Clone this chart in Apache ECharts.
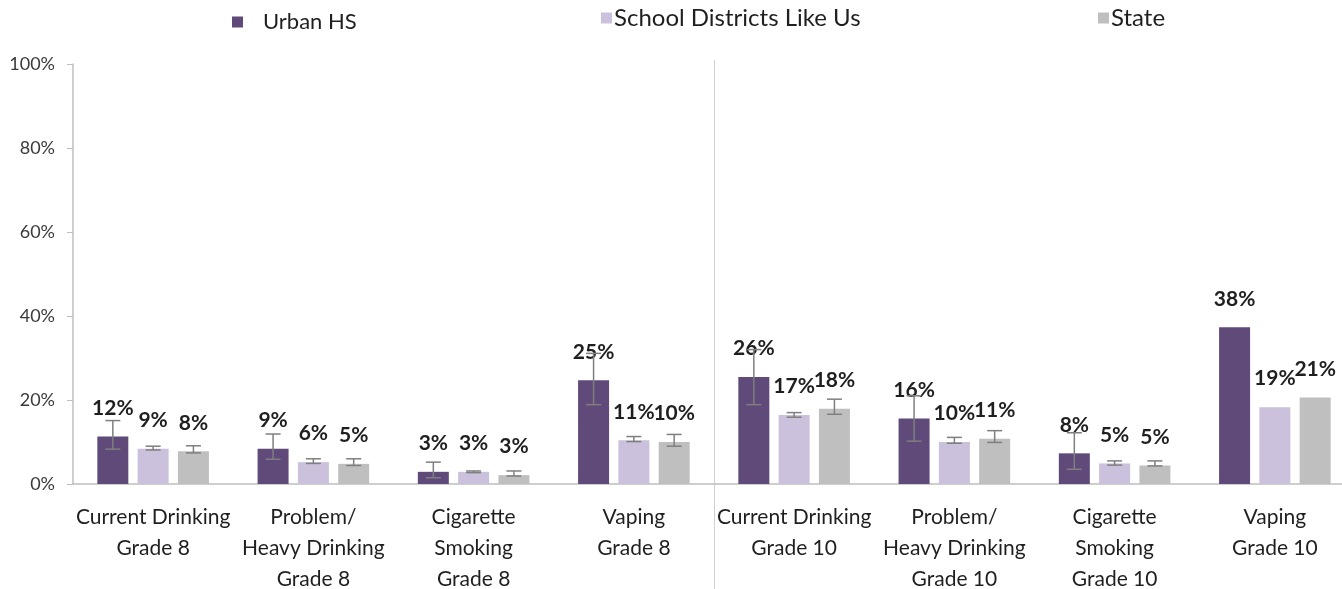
<!DOCTYPE html>
<html>
<head>
<meta charset="utf-8">
<script src="https://cdn.jsdelivr.net/npm/echarts@6/dist/echarts.min.js"></script>
<style>
  html, body { margin: 0; padding: 0; background: #fff; }
  #chart { width: 1342px; height: 589px; }
</style>
</head>
<body>
<div id="chart"></div>
<script>
// categories along the x axis
const categories = [
  "Current Drinking\nGrade 8",
  "Problem/\nHeavy Drinking\nGrade 8",
  "Cigarette\nSmoking\nGrade 8",
  "Vaping\nGrade 8",
  "Current Drinking\nGrade 10",
  "Problem/\nHeavy Drinking\nGrade 10",
  "Cigarette\nSmoking\nGrade 10",
  "Vaping\nGrade 10"
];

const seriesNames = ["Urban HS", "School Districts Like Us", "State"];

// bar heights (%)
const urbanHS = [11.3, 8.4, 2.9, 24.7, 25.5, 15.6, 7.3, 37.3];
const districtsLikeUs = [8.4, 5.2, 2.9, 10.4, 16.4, 10.0, 4.9, 18.3];
const state = [7.8, 4.8, 2.1, 10.0, 17.9, 10.8, 4.4, 20.6];

// printed labels (%)
const urbanLabels = [12, 9, 3, 25, 26, 16, 8, 38];
const districtsLabels = [9, 6, 3, 11, 17, 10, 5, 19];
const stateLabels = [8, 5, 3, 10, 18, 11, 5, 21];

// error bar ranges (%), null = no error bar
const urbanLow = [8.3, 5.9, 1.5, 18.9, 18.9, 10.2, 3.5, null];
const urbanHigh = [15.1, 11.9, 5.2, 31.1, 32.0, 21.0, 12.2, null];
const districtsLow = [8.1, 4.9, 2.7, 10.1, 15.9, 9.7, 4.5, null];
const districtsHigh = [9.0, 6.0, 3.1, 11.3, 17.0, 11.1, 5.5, null];
const stateLow = [7.4, 4.4, 1.9, 9.0, 16.6, 9.9, 4.3, null];
const stateHigh = [9.1, 6.0, 3.1, 11.8, 20.2, 12.7, 5.5, null];

// y axis ticks
const yTicks = [0, 20, 40, 60, 80, 100];

const colors = ["#5f4a7a", "#cbc1dc", "#bfbfbf"];
const BAR_W = 31;
const BAR_GAP = 9.3;
const FONT = "Lato, 'Noto Sans', sans-serif";

function errData(low, high) {
  let out = [];
  for (let i = 0; i < low.length; i++) {
    if (low[i] != null) out.push([i, low[i], high[i]]);
  }
  return out;
}

function errSeries(k, low, high) {
  const offset = (k - 1) * (BAR_W + BAR_GAP);
  return {
    type: "custom",
    name: seriesNames[k] + " err",
    z: 5,
    silent: true,
    data: errData(low, high),
    renderItem: function (params, api) {
      const lo = api.coord([api.value(0), api.value(1)]);
      const hi = api.coord([api.value(0), api.value(2)]);
      const x = lo[0] + offset;
      const cap = 7.5;
      const style = { stroke: "#7f7f7f", lineWidth: 1.5, fill: null };
      return {
        type: "group",
        children: [
          { type: "line", shape: { x1: x, y1: lo[1], x2: x, y2: hi[1] }, style: style },
          { type: "line", shape: { x1: x - cap, y1: hi[1], x2: x + cap, y2: hi[1] }, style: style },
          { type: "line", shape: { x1: x - cap, y1: lo[1], x2: x + cap, y2: lo[1] }, style: style }
        ]
      };
    }
  };
}

function barSeries(k, values, labels) {
  return {
    type: "bar",
    name: seriesNames[k],
    data: values,
    barWidth: BAR_W,
    barGap: (BAR_GAP / BAR_W * 100).toFixed(1) + "%",
    itemStyle: { color: colors[k] },
    label: {
      show: true,
      position: "top",
      distance: 18,
      fontFamily: FONT,
      fontWeight: "bold",
      fontSize: 21,
      color: "#1f1f1f",
      formatter: function (p) {
        return labels[p.dataIndex] + "%";
      }
    }
  };
}

const legendText = { fontFamily: FONT, fontSize: 24, color: "#1f1f1f" };

let option = {
  animation: false,
  backgroundColor: "#fff",
  legend: [
    {
      data: [seriesNames[0]], left: 227, top: 6, icon: "rect",
      itemWidth: 11, itemHeight: 11,
      textStyle: Object.assign({}, legendText, { fontSize: 22, padding: [6, 0, 0, 15] })
    },
    {
      data: [seriesNames[1]], left: 596, top: 1, icon: "rect",
      itemWidth: 11, itemHeight: 11,
      textStyle: Object.assign({}, legendText, { padding: [0, 0, 0, -3] })
    },
    {
      data: [seriesNames[2]], left: 1093, top: 1, icon: "rect",
      itemWidth: 11, itemHeight: 11,
      textStyle: Object.assign({}, legendText, { padding: [0, 0, 0, -3] })
    }
  ],
  grid: {
    left: 73,
    right: -13,
    top: 64,
    bottom: 105,
    outerBoundsMode: "none"
  },
  xAxis: {
    type: "category",
    data: categories,
    axisLine: { lineStyle: { color: "#bfbfbf", width: 1.5 } },
    axisTick: { show: false },
    axisLabel: {
      interval: 0,
      margin: 18,
      fontFamily: FONT,
      fontSize: 21,
      lineHeight: 31,
      color: "#1f1f1f"
    }
  },
  yAxis: {
    type: "value",
    min: yTicks[0],
    max: yTicks[yTicks.length - 1],
    interval: yTicks[1] - yTicks[0],
    splitLine: { show: false },
    axisLine: { show: true, lineStyle: { color: "#bfbfbf", width: 1.5 } },
    axisTick: { show: true, inside: false, length: 6, lineStyle: { color: "#bfbfbf" } },
    axisLabel: {
      margin: 18,
      fontFamily: FONT,
      fontSize: 18,
      color: "#3a3a3a",
      formatter: "{value}%"
    }
  },
  series: [
    barSeries(0, urbanHS, urbanLabels),
    barSeries(1, districtsLikeUs, districtsLabels),
    barSeries(2, state, stateLabels),
    errSeries(0, urbanLow, urbanHigh),
    errSeries(1, districtsLow, districtsHigh),
    errSeries(2, stateLow, stateHigh)
  ]
};

let myChart = echarts.init(document.getElementById("chart"));
myChart.setOption(option);

// vertical divider between grade 8 and grade 10 groups
const xa = myChart.convertToPixel({ xAxisIndex: 0 }, 3);
const xb = myChart.convertToPixel({ xAxisIndex: 0 }, 4);
const xDiv = Math.round((xa + xb) / 2) + 0.5;
myChart.setOption({
  graphic: [{
    type: "line",
    shape: { x1: xDiv, y1: 60, x2: xDiv, y2: 589 },
    style: { stroke: "#d0d0d0", lineWidth: 1 },
    silent: true
  }]
});
</script>
</body>
</html>
